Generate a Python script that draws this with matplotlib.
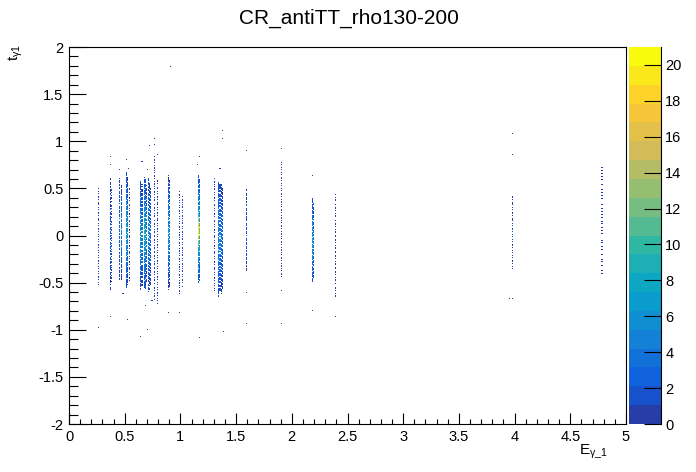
import numpy as np
import matplotlib
matplotlib.use("Agg")
import matplotlib.pyplot as plt
from matplotlib.colors import LinearSegmentedColormap, ListedColormap, BoundaryNorm

plt.rcParams["font.family"] = ["Liberation Sans", "DejaVu Sans"]
plt.rcParams["mathtext.fontset"] = "custom"
plt.rcParams["mathtext.rm"] = "Liberation Sans"
plt.rcParams["mathtext.it"] = "Liberation Sans:italic"
plt.rcParams["axes.unicode_minus"] = False

# ---------------------------------------------------------------------------
# Histogram content
# each column: x position, y span, counts along the span (bottom -> top),
# and the texture of filled/empty cells seen inside it
# ---------------------------------------------------------------------------
col_x = [0.26, 0.37, 0.38, 0.45, 0.47, 0.51, 0.52, 0.54,
         0.64, 0.65, 0.67, 0.68, 0.69, 0.71, 0.72, 0.73, 0.76, 0.79,
         0.89, 0.90, 0.99, 1.01, 1.16, 1.17, 1.30,
         1.34, 1.35, 1.36, 1.37, 1.59, 1.90, 2.18, 2.19, 2.39, 3.98, 4.78]
col_ylo = [-0.53, -0.58, -0.50, -0.47, -0.47, -0.56, -0.52, -0.50,
           -0.58, -0.55, -0.56, -0.58, -0.50, -0.60, -0.58, -0.52, -0.70, -0.74,
           -0.58, -0.55, -0.63, -0.55, -0.50, -0.48, -0.60,
           -0.65, -0.60, -0.62, -0.58, -0.39, -0.45, -0.50, -0.45, -0.65, -0.37, -0.42]
col_yhi = [0.50, 0.61, 0.50, 0.61, 0.55, 0.67, 0.62, 0.50,
           0.59, 0.55, 0.62, 0.60, 0.55, 0.62, 0.58, 0.50, 0.85, 0.60,
           0.64, 0.60, 0.48, 0.42, 0.64, 0.60, 0.62,
           0.57, 0.55, 0.57, 0.52, 0.50, 0.78, 0.40, 0.35, 0.45, 0.43, 0.74]
col_counts = [
    [1, 1, 1, 2, 1, 1, 1],
    [1, 2, 2, 3, 2, 2, 1, 1],
    [1, 1, 2, 2, 1, 1],
    [1, 2, 2, 3, 3, 2, 2, 1],
    [1, 2, 3, 4, 5, 4, 3, 2, 1],
    [2, 3, 4, 5, 6, 7, 8, 7, 6, 5, 4, 3, 2],
    [1, 2, 3, 4, 5, 6, 5, 4, 3, 2, 1],
    [1, 1, 1, 1],
    [2, 3, 4, 5, 6, 7, 8, 7, 6, 5, 4, 3, 2],
    [1, 2, 3, 4, 5, 4, 3, 2, 1],
    [2, 3, 4, 5, 6, 7, 8, 9, 8, 7, 6, 5, 4, 3, 2],
    [2, 3, 4, 5, 6, 7, 8, 7, 6, 5, 4, 3, 2],
    [1, 2, 3, 4, 5, 4, 3, 2, 1],
    [2, 3, 4, 5, 5, 4, 3, 2],
    [1, 2, 3, 4, 4, 3, 2, 1],
    [1, 2, 3, 3, 2, 1],
    [1, 1, 1, 1],
    [1, 1, 1, 1],
    [1, 2, 3, 4, 5, 6, 7, 6, 5, 4, 3, 2, 1],
    [1, 2, 3, 4, 5, 4, 3, 2, 1],
    [1, 1, 1, 1],
    [1, 1, 1, 1],
    [2, 3, 4, 5, 7, 9, 12, 16, 20, 18, 14, 10, 8, 6, 5, 4, 3, 2],
    [2, 3, 4, 5, 7, 9, 12, 11, 8, 6, 5, 4, 3, 2],
    [1, 1, 1, 1],
    [2, 3, 4, 5, 5, 4, 3, 2],
    [2, 3, 4, 5, 4, 3, 2],
    [1, 2, 3, 4, 3, 2, 1],
    [1, 2, 3, 3, 2, 1],
    [1, 2, 3, 3, 2, 2, 1],
    [1, 1, 1, 1],
    [2, 3, 4, 5, 6, 7, 7, 6, 5, 4, 3, 2],
    [1, 2, 3, 4, 4, 3, 2, 1],
    [1, 1, 1, 1],
    [1, 1, 2, 1, 1],
    [1, 1, 1, 1],
]
col_texture = ["sparse", "mid", "sparse", "mid", "dense", "dense", "dense", "sparse",
               "dense", "mid", "dense", "dense", "mid", "mid", "mid", "mid",
               "sparse", "sparse", "dense", "mid", "sparse", "sparse",
               "dense", "dense", "sparse", "dense", "mid", "mid", "mid",
               "mid", "sparse", "dense", "mid", "sparse", "sparse", "very_sparse"]
textures = {
    "dense": [1, 1, 1, 1, 0, 1, 1, 1, 1, 1, 0, 1, 1, 1, 1, 1, 1, 0],
    "mid": [1, 1, 0, 1, 1, 1, 0, 0, 1, 1, 0, 1, 1, 1, 0, 1],
    "sparse": [1, 0, 1, 1, 0, 0, 1, 0, 1, 0, 0, 1, 1, 0, 1, 0, 0],
    "very_sparse": [1, 0, 0, 1, 0, 0, 0, 1, 0, 1, 0, 0, 0, 0, 1, 0, 0, 1, 0, 0],
}

# isolated single entries (x, y)
tail_x = [0.26, 0.37, 0.37, 0.37, 0.45, 0.52, 0.64, 0.70, 0.72, 0.76, 0.76,
          0.91, 0.99, 1.17, 1.17, 1.37, 1.37, 1.38, 1.59, 1.59, 1.59, 1.90,
          1.90, 1.90, 2.18, 2.18, 2.39, 3.98, 3.98, 3.98, 3.95, 0.79, 0.89,
          0.45, 0.51, 0.65, 0.68, 1.35, 2.18, 0.48, 0.53, 0.70, 0.74, 1.15]
tail_y = [-0.98, -0.86, 0.75, 0.83, 0.70, -0.90, -1.07, -1.00, 0.95, 1.02, 0.96,
          1.79, -0.82, -1.08, 0.83, 1.11, 1.02, -1.02, -0.93, 0.90, -0.61, 0.92,
          -0.59, -0.94, 0.63, -0.80, -0.86, 1.08, 0.85, -0.66, -0.66, 0.85, -0.82,
          -0.70, 0.80, 0.78, -0.75, 0.72, -0.70, -0.62, 0.72, 0.70, -0.68, 0.75]

# ---------------------------------------------------------------------------
# Fill the histogram (500 x bins, 400 y bins)
# ---------------------------------------------------------------------------
NX, NY = 500, 400
yedges = np.linspace(-2, 2, NY + 1)
H = np.zeros((NY, NX))
ycent = 0.5 * (yedges[:-1] + yedges[1:])

for k, (x, lo, hi, counts) in enumerate(zip(col_x, col_ylo, col_yhi, col_counts)):
    ix = int(round(x / 0.01))
    tex = textures[col_texture[k]]
    sel = np.where((ycent >= lo) & (ycent <= hi))[0]
    for iy in sel:
        if not tex[(iy + 5 * k) % len(tex)]:
            continue
        seg = min(int((ycent[iy] - lo) / (hi - lo) * len(counts)), len(counts) - 1)
        H[iy, ix] = counts[seg]

for x, y in zip(tail_x, tail_y):
    H[int((y + 2) / 0.01), int(round(x / 0.01))] += 1

# ---------------------------------------------------------------------------
# ROOT kBird palette, 20 contour levels
# ---------------------------------------------------------------------------
stops = np.linspace(0, 1, 9)
red = [0.2082, 0.0592, 0.0780, 0.0232, 0.1802, 0.5301, 0.8186, 0.9956, 0.9764]
green = [0.1664, 0.3599, 0.5041, 0.6419, 0.7178, 0.7492, 0.7328, 0.7862, 0.9832]
blue = [0.5293, 0.8684, 0.8385, 0.7914, 0.6425, 0.4662, 0.3499, 0.1968, 0.0539]
bird = LinearSegmentedColormap.from_list(
    "bird", list(zip(stops, zip(red, green, blue))))
NLEV = 20
ZMAX = 21.0
# ROOT picks colour index int((k + 0.99) * 255 / ndiv) out of 255
cmap = ListedColormap([bird(int((i + 0.99) * 255 / NLEV) / 254) for i in range(NLEV)])
levels = np.linspace(0, ZMAX, NLEV + 1)
norm = BoundaryNorm(levels, NLEV)

W, Hpx = 696, 472
PT = 0.72  # points per pixel at dpi 100
fig = plt.figure(figsize=(W / 100, Hpx / 100), dpi=100)
ax = fig.add_axes([69 / W, 1 - 424 / Hpx, 557 / W, 377 / Hpx])
cax = fig.add_axes([629 / W, 1 - 424 / Hpx, 32 / W, 377 / Hpx])

Hm = np.ma.masked_where(H <= 0, H)
ax.imshow(Hm, cmap=cmap, norm=norm, origin="lower", extent=[0, 5, -2, 2],
          aspect="auto", interpolation="nearest")
ax.set_xlim(0, 5)
ax.set_ylim(-2, 2)

ax.set_xticks(np.arange(0, 5.01, 0.5))
ax.set_xticks(np.arange(0, 5.01, 0.1), minor=True)
ax.set_yticks(np.arange(-2, 2.01, 0.5))
ax.set_yticks(np.arange(-2, 2.01, 0.1), minor=True)
ax.set_xticklabels([f"{v:g}" for v in np.arange(0, 5.01, 0.5)])
ax.set_yticklabels([f"{v:g}" for v in np.arange(-2, 2.01, 0.5)])
ax.tick_params(axis="x", which="major", direction="in", length=11 * PT, width=0.8,
               labelsize=10.5, pad=4, top=False)
ax.tick_params(axis="x", which="minor", direction="in", length=5.5 * PT, width=0.8, top=False)
ax.tick_params(axis="y", which="major", direction="in", length=17 * PT, width=0.8,
               labelsize=10.5, pad=4, right=False)
ax.tick_params(axis="y", which="minor", direction="in", length=8.5 * PT, width=0.8, right=False)
for s in ax.spines.values():
    s.set_linewidth(0.8)

# colour scale
cax.pcolormesh([0, 1], levels, np.array([levels[:-1] + 0.5]).T, cmap=cmap, norm=norm)
cax.set_xlim(0, 1)
cax.set_ylim(0, ZMAX)
cax.set_xticks([])
cax.yaxis.tick_right()
cax.set_yticks(np.arange(0, 21, 2))
cax.set_yticklabels([str(v) for v in range(0, 21, 2)])
cax.tick_params(axis="y", direction="in", length=17 * PT, width=0.8, labelsize=10.5, pad=3)
for side in ["top", "bottom", "left"]:
    cax.spines[side].set_visible(False)
cax.spines["right"].set_linewidth(0.8)

fig.text(349 / W, 1 - 18 / Hpx, "CR_antiTT_rho130-200", ha="center", va="center",
         fontsize=15)
fig.text(608 / W, 1 - 452 / Hpx, r"$\mathrm{E_{\gamma\_1}}$", ha="right", va="center",
         fontsize=11)
fig.text(16 / W, 1 - 44 / Hpx, r"$\mathrm{t_{\gamma 1}}$", ha="center", va="top",
         rotation=90, fontsize=11)

fig.savefig("out.png", dpi=100)
